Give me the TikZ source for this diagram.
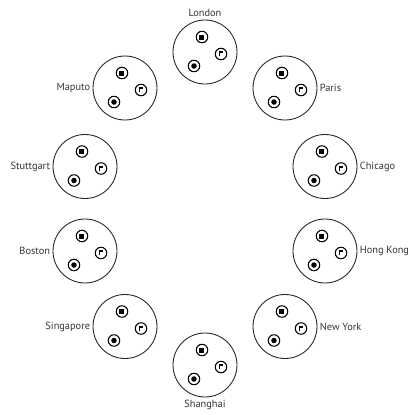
\documentclass[tikz,border=0pt]{standalone}
\usepackage{fontspec}
\setmainfont{PT Sans}
\usetikzlibrary{calc}

\tikzset{
  site/.style={draw=black!85, circle, minimum size=1.28cm, inner sep=0pt, line width=0.5pt},
  port/.style={draw, circle, minimum size=0.23cm, inner sep=0pt, line width=0.6pt},
  city/.style={inner sep=1.2pt, font=\fontsize{5.9}{7}\selectfont, text=black!80},
}

\begin{document}
\begin{tikzpicture}
  \useasboundingbox (-4.1,-4.14) rectangle (4.1,4.16);
  % ten sites round the ring, label on the outer side
  \foreach \id/\name/\x/\y/\side/\anc in {
      lon/London/0/3.12/north/south,
      par/Paris/1.6/2.4/east/west,
      chi/Chicago/2.4/0.83/east/west,
      hk/Hong Kong/2.4/-0.86/east/west,
      ny/New York/1.6/-2.37/east/west,
      sha/Shanghai/0/-3.14/south/north,
      sin/Singapore/-1.6/-2.37/west/east,
      bos/Boston/-2.4/-0.86/west/east,
      stu/Stuttgart/-2.4/0.83/west/east,
      map/Maputo/-1.6/2.4/west/east}
  {
    \node[site] (\id) at (\x,\y) {};
    \node[city, anchor=\anc] (\id-name) at (\id.\side) {\name};
    % three sockets: square, corner, dot
    \node[port] (\id-sq) at ($(\id)+(-0.06,0.3)$) {};
    \node[port] (\id-cn) at ($(\id)+(0.32,-0.04)$) {};
    \node[port] (\id-dt) at ($(\id)+(-0.22,-0.28)$) {};
    \fill (\id-sq) ++(-0.05,-0.05) rectangle ++(0.1,0.1);
    \fill (\id-dt) circle (0.055);
    \draw[line width=1.1pt] ($(\id-cn)+(-0.03,-0.045)$) -- ++(0,0.08) -- ++(0.075,0);
  }
\end{tikzpicture}
\end{document}
